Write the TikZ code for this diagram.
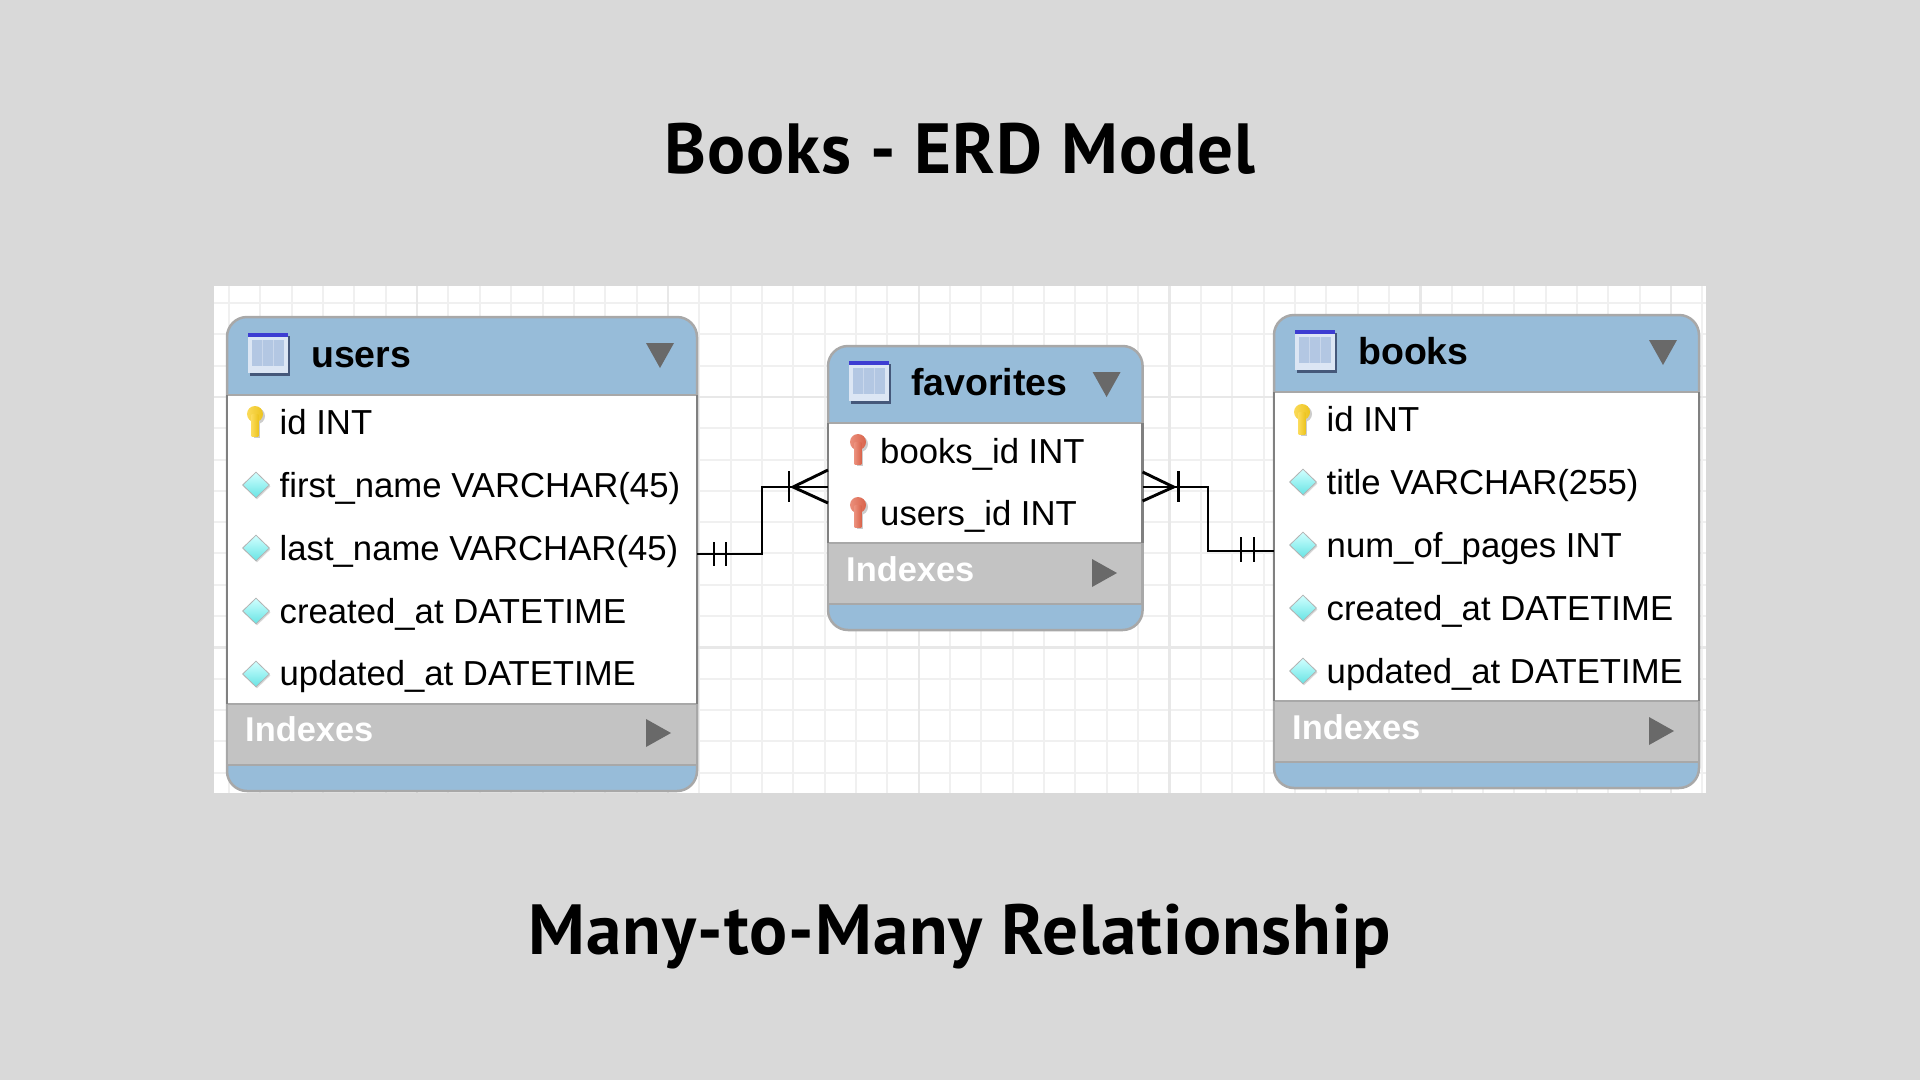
\documentclass[tikz,border=0pt]{standalone}
\usepackage{fontspec}
\setsansfont{Liberation Sans}
\newfontfamily\titlefont[LetterSpace=1.4]{PT Sans}
\usetikzlibrary{positioning}
\usetikzlibrary{shapes.geometric}
\usetikzlibrary{shadows}

\definecolor{slidegray}{HTML}{D9D9D9}
\definecolor{headblue}{HTML}{97BCD9}
\definecolor{indexgray}{HTML}{C3C3C3}
\definecolor{framegray}{HTML}{A8A8A8}
\definecolor{arrowgray}{HTML}{696969}
\definecolor{keyyellow}{HTML}{F9CE20}
\definecolor{keyred}{HTML}{E4694F}
\definecolor{iconframe}{HTML}{DCE6F4}
\definecolor{iconcell}{HTML}{B3C7E3}
\definecolor{iconline}{HTML}{C9D7EC}
\definecolor{iconbar}{HTML}{3D3DD2}
\definecolor{iconshadow}{HTML}{45587A}

\tikzset{
  tablebox/.style={draw=framegray, line width=2.5pt, fill=headblue, rounded corners=20pt,
    anchor=north west, inner sep=0pt, outer sep=0pt},
  fieldbox/.style={draw=framegray, line width=2.5pt, fill=white, inner sep=0pt, outer sep=0pt},
  fieldside/.style={draw=gray, line width=2.5pt},
  indexbox/.style={draw=framegray, line width=2.5pt, fill=indexgray, inner sep=0pt, outer sep=0pt},
  tabletitle/.style={anchor=base west, inner sep=0pt, font=\sffamily\bfseries\fontsize{37.5}{37.5}\selectfont},
  fieldtext/.style={anchor=base west, inner sep=0pt, font=\sffamily\fontsize{34.7}{34.7}\selectfont},
  indextext/.style={anchor=base west, inner sep=0pt, text=white, font=\sffamily\bfseries\fontsize{34.4}{34.4}\selectfont},
  slidetitle/.style={anchor=base, inner sep=0pt, font=\titlefont\bfseries\fontsize{71}{71}\selectfont},
  coldiamond/.style={diamond, draw=black!30, line width=0.8pt, top color=cyan!18, bottom color=cyan!70!gray!70,
    minimum width=27pt, minimum height=26pt, inner sep=0pt,
    drop shadow={opacity=0.3, shadow xshift=1pt, shadow yshift=-1.5pt}},
  relation/.style={draw=black, line width=2.9pt},
  gridline/.style={draw=black!6, line width=2pt},
  majorline/.style={draw=black!9, line width=2.4pt},
  pics/tableicon/.style={code={
    \fill[iconshadow] (2,3) rectangle (42,43);
    \fill[iconframe] (0,0) rectangle (40,40);
    \fill[iconcell] (4,7) rectangle (36,33);
    \draw[iconline, line width=1.5pt] (14.5,7) -- (14.5,33) (25.5,7) -- (25.5,33);
    \fill[iconbar] (0,0) rectangle (40,4);
  }},
  pics/keyicon/.style={code={
    \fill[black!20] (2,-5) circle (8);
    \fill[black!20] (-1.5,-5) rectangle (5,17);
    \path[left color=#1!75!white, right color=#1!95!black] (0,-7) circle (8);
    \path[left color=#1!75!white, right color=#1!95!black] (-3.4,-7) rectangle (3.4,15);
  }},
  pics/collapsed/.style={code={\fill[arrowgray] (0,0) -- (28,0) -- (14,25) -- cycle;}},
  pics/expandright/.style={code={\fill[arrowgray] (0,0) -- (25,14) -- (0,28) -- cycle;}},
}

\begin{document}
\begin{tikzpicture}[x=1pt, y=-1pt]
  \fill[slidegray] (0,0) rectangle (1920,1080);
  \fill[white] (214,286) rectangle (1706,793);

  % grid of the model canvas
  \foreach \k in {0,...,47}
    \draw[gridline] ({229+\k*31.35},286) -- ({229+\k*31.35},793);
  \foreach \k in {0,...,15}
    \draw[gridline] (214,{303+\k*31.3}) -- (1706,{303+\k*31.3});
  \foreach \k in {6,14,22,30,38,46}
    \draw[majorline] ({229+\k*31.35},286) -- ({229+\k*31.35},793);
  \foreach \k in {3,11}
    \draw[majorline] (214,{303+\k*31.3}) -- (1706,{303+\k*31.3});

  \node[slidetitle] (title) at (960,173) {Books - ERD Model};
  \node[slidetitle] (subtitle) at (960,954) {Many-to-Many Relationship};

  \begin{scope}[shift={(227,317)}]
    \node[tablebox, minimum width=470pt, minimum height=474pt] (users) at (0,0) {};
    \node[fieldbox, minimum width=470pt, minimum height=309pt, below=78pt of users.north] (usersfields) {};
    \node[indexbox, minimum width=470pt, minimum height=61pt, below=0pt of usersfields] (usersindex) {};
    \pic at (21,16) {tableicon};
    \node[tabletitle] (userstitle) at (84,50) {users};
    \pic at (419,26) {collapsed};
    \pic at (28,104) {keyicon=keyyellow};
    \node[fieldtext] (usersid) at (52.5,117) {id INT};
    \node[coldiamond] (d1) at (29,168) {};
    \node[fieldtext] (usersfirst) at (52.5,180) {first\_name VARCHAR(45)};
    \node[coldiamond] (d2) at (29,231) {};
    \node[fieldtext] (userslast) at (52.5,243) {last\_name VARCHAR(45)};
    \node[coldiamond] (d3) at (29,294) {};
    \node[fieldtext] (userscreated) at (52.5,306) {created\_at DATETIME};
    \node[coldiamond] (d4) at (29,357) {};
    \node[fieldtext] (usersupdated) at (52.5,368) {updated\_at DATETIME};
    \node[indextext] (usersindexes) at (18,424.7) {Indexes};
    \pic at (419,402) {expandright};
    \coordinate (usersport) at (470,237);
  \end{scope}

  \begin{scope}[shift={(828,346)}]
    \node[tablebox, minimum width=314.6pt, minimum height=284pt] (favorites) at (0,0) {};
    \node[fieldbox, minimum width=314.6pt, minimum height=120pt, below=77pt of favorites.north] (favfields) {};
    \node[indexbox, minimum width=314.6pt, minimum height=61pt, below=0pt of favfields] (favindex) {};
    \pic at (21,15) {tableicon};
    \node[tabletitle] (favtitle) at (83,49) {favorites};
    \pic at (264.6,26) {collapsed};
    \pic at (30,103) {keyicon=keyred};
    \node[fieldtext] (favbooks) at (52,117) {books\_id INT};
    \pic at (30,166) {keyicon=keyred};
    \node[fieldtext] (favusers) at (52,179.5) {users\_id INT};
    \node[indextext] (favindexes) at (18,235.7) {Indexes};
    \pic at (264,213) {expandright};
    \coordinate (favleft) at (0,141);
    \coordinate (favright) at (314.6,141);
  \end{scope}

  \begin{scope}[shift={(1274,315)}]
    \node[tablebox, minimum width=425pt, minimum height=473pt] (books) at (0,0) {};
    \node[fieldbox, minimum width=425pt, minimum height=309pt, below=77pt of books.north] (booksfields) {};
    \node[indexbox, minimum width=425pt, minimum height=61pt, below=0pt of booksfields] (booksindex) {};
    \pic at (21,15) {tableicon};
    \node[tabletitle] (bookstitle) at (84,49) {books};
    \pic at (375,25) {collapsed};
    \pic at (28,104) {keyicon=keyyellow};
    \node[fieldtext] (booksid) at (52.5,116) {id INT};
    \node[coldiamond] (d5) at (29,167) {};
    \node[fieldtext] (bookstitlecol) at (52.5,179) {title VARCHAR(255)};
    \node[coldiamond] (d6) at (29,230) {};
    \node[fieldtext] (bookspages) at (52.5,242) {num\_of\_pages INT};
    \node[coldiamond] (d7) at (29,293) {};
    \node[fieldtext] (bookscreated) at (52.5,305) {created\_at DATETIME};
    \node[coldiamond] (d8) at (29,356) {};
    \node[fieldtext] (booksupdated) at (52.5,368) {updated\_at DATETIME};
    \node[indextext] (booksindexes) at (18,424.7) {Indexes};
    \pic at (375,402) {expandright};
    \coordinate (booksport) at (0,236);
  \end{scope}

  \foreach \t in {usersfields,favfields,booksfields}
    \draw[fieldside] (\t.north west) -- (\t.south west) (\t.north east) -- (\t.south east);

  \coordinate (leftbend) at (762,487);
  \coordinate (rightbend) at (1208,551);

  \draw[relation] (usersport) -| (leftbend) -- (favleft);
  \draw[relation] ([shift={(17,-12)}]usersport) -- ++(0,24);
  \draw[relation] ([shift={(29,-12)}]usersport) -- ++(0,24);
  \draw[relation] ([shift={(-39,-16)}]favleft) -- ++(0,31);
  \draw[relation] ([shift={(0,-17)}]favleft) -- ([shift={(-35,0)}]favleft) -- ([shift={(0,16)}]favleft);

  \draw[relation] (favright) -| (rightbend) -- (booksport);
  \draw[relation] ([shift={(36,-16)}]favright) -- ++(0,31);
  \draw[relation] ([shift={(0,-15)}]favright) -- ([shift={(31,0)}]favright) -- ([shift={(0,14)}]favright);
  \draw[relation] ([shift={(-33,-14)}]booksport) -- ++(0,25);
  \draw[relation] ([shift={(-20,-14)}]booksport) -- ++(0,25);
\end{tikzpicture}
\end{document}
